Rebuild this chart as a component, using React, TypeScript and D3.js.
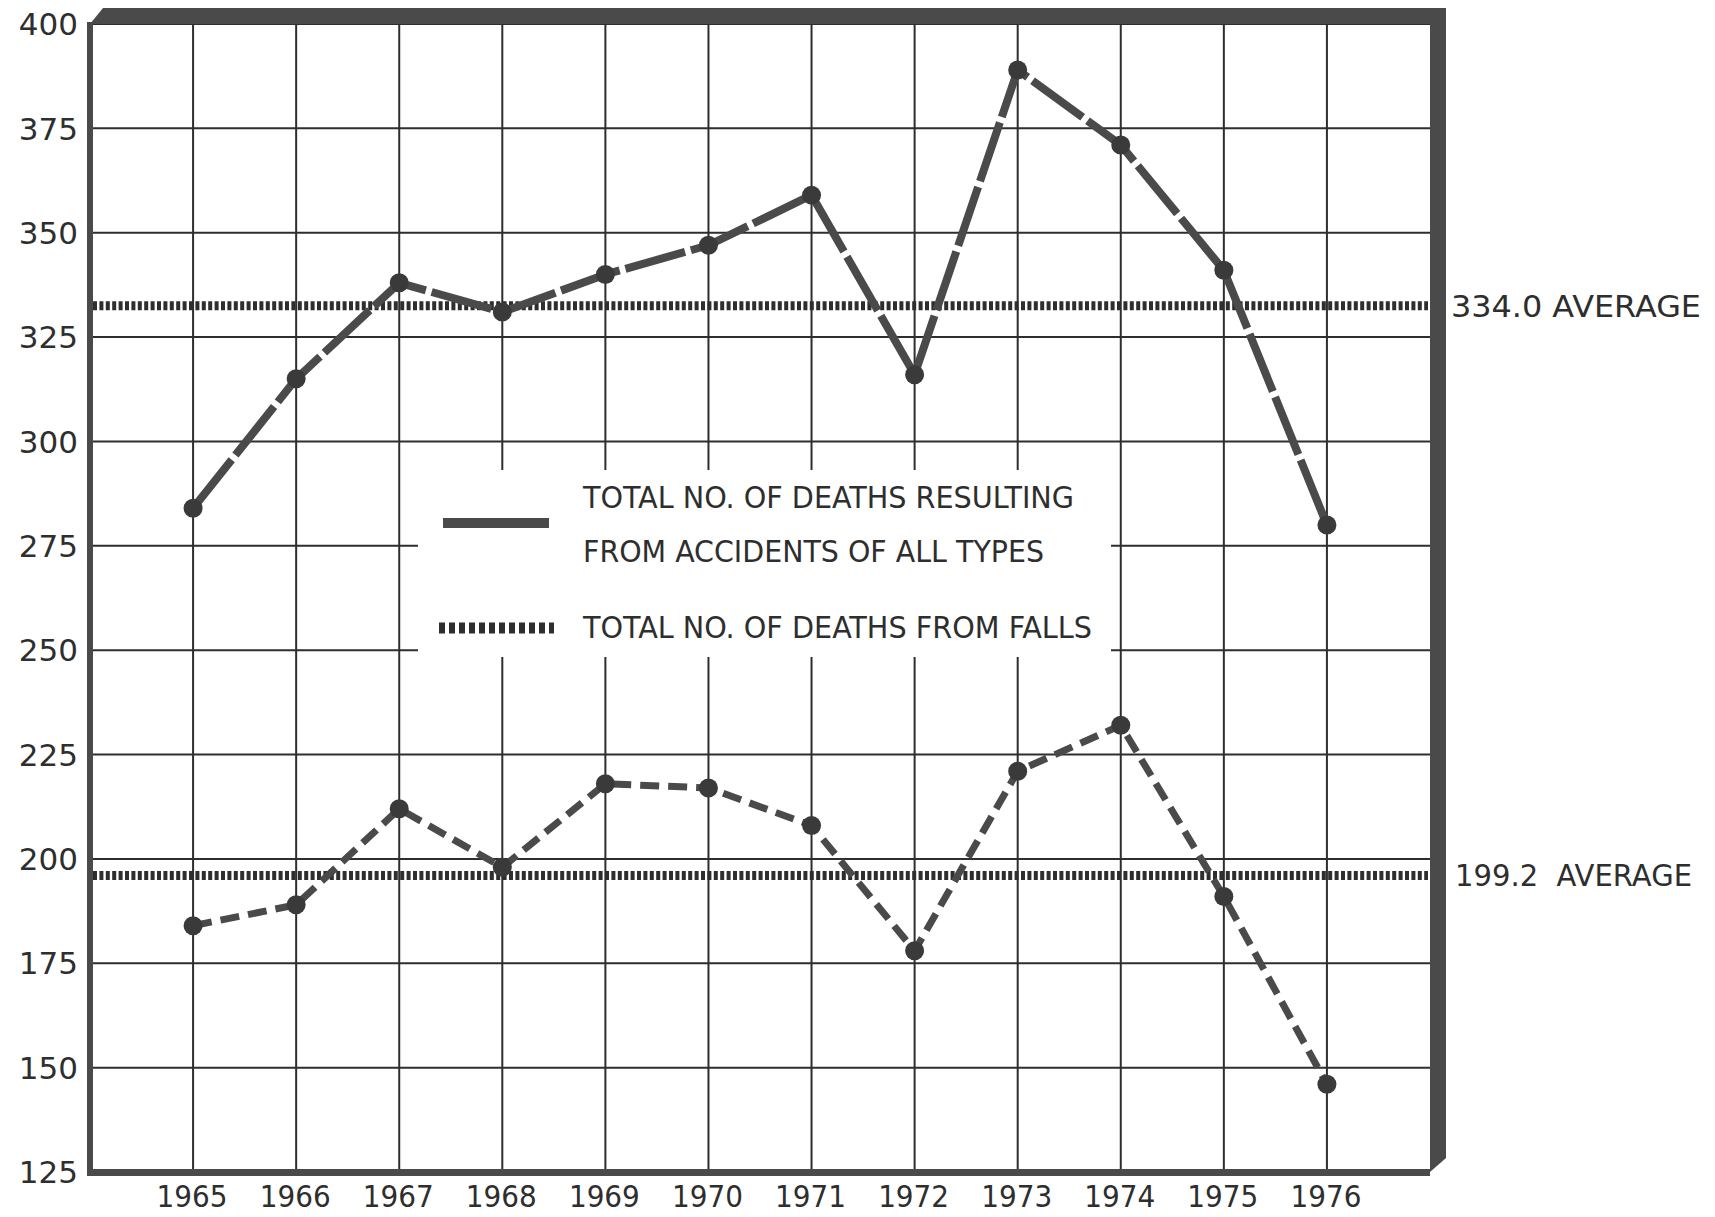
import * as d3 from 'd3'

// Deaths per year, 1965-1976: all accidents vs. falls, with the period averages
const YEARS = [1965, 1966, 1967, 1968, 1969, 1970, 1971, 1972, 1973, 1974, 1975, 1976]
const ALL_ACCIDENTS = [284, 315, 338, 331, 340, 347, 359, 316, 389, 371, 341, 280]
const FALLS = [184, 189, 212, 198, 218, 217, 208, 178, 221, 232, 191, 146]
const Y_TICKS = [125, 150, 175, 200, 225, 250, 275, 300, 325, 350, 375, 400]
// where the dotted average lines sit on the drawing, and their printed labels
const AVG_LINES = [332.5, 196]
const AVG_LABELS = ['334.0 AVERAGE', '199.2  AVERAGE']
const LEGEND_LINES = [
  'TOTAL NO. OF DEATHS RESULTING',
  'FROM ACCIDENTS OF ALL TYPES',
  'TOTAL NO. OF DEATHS FROM FALLS',
]

const W = 1715, H = 1217
const INK = '#2e2e2e'
const TONE = '#4a4a4a'
const AXIS_FONT = '"DejaVu Sans", sans-serif'
const COND_FONT = '"DejaVu Sans Condensed", "DejaVu Sans", sans-serif'

export default function App() {
  const x = d3.scaleLinear().domain([1964, 1977]).range([90, 1430])
  const y = d3.scaleLinear().domain([125, 400]).range([1172, 24])

  const left = x(1964), right = x(1977), top = y(400), bottom = y(125)

  const line = d3.line<number>()
    .x((d, i) => x(YEARS[i]))
    .y(d => y(d))

  // legend panel (white box that blanks out the grid behind it)
  const lg = { x: 418, y: 470, w: 693, h: 187 }

  // raised frame: thick top + right faces, thin left + bottom
  const shade = `M${left},${top} L${left + 13},${top - 16} L${right + 16},${top - 16} ` +
    `L${right + 16},${bottom - 14} L${right},${bottom} L${right},${top} Z`

  return (
    <svg width={W} height={H} style={{ position: 'absolute', left: 0, top: 0, background: '#fff' }}>
      {/* grid */}
      <g stroke={INK} strokeWidth={2}>
        {Y_TICKS.map(t => (
          <line key={'h' + t} x1={left} x2={right} y1={y(t)} y2={y(t)} />
        ))}
        {YEARS.map(yr => (
          <line key={'v' + yr} x1={x(yr)} x2={x(yr)} y1={top} y2={bottom} />
        ))}
      </g>

      <rect x={lg.x} y={lg.y} width={lg.w} height={lg.h} fill="#fff" />

      {/* frame */}
      <path d={shade} fill={TONE} />
      <rect x={left - 3} y={top - 2} width={6} height={bottom - top + 4} fill={TONE} />
      <rect x={left - 3} y={bottom - 3} width={right - left + 3} height={7} fill={TONE} />

      {/* averages */}
      {AVG_LINES.map((v, i) => (
        <line key={'avg' + i} x1={left + 3} x2={right - 2} y1={y(v)} y2={y(v)}
          stroke={INK} strokeWidth={9} strokeDasharray="4,2.4" />
      ))}
      {AVG_LABELS.map((s, i) => (
        <text key={'al' + i} x={i === 0 ? 1451 : 1455} y={y(AVG_LINES[i])} dy="0.36em"
          fontFamily={AXIS_FONT} fontSize={30} fill={INK} textLength={i === 0 ? 250 : 237}
          lengthAdjust="spacingAndGlyphs" style={{ whiteSpace: 'pre' }}>{s}</text>
      ))}

      {/* series */}
      <path d={line(ALL_ACCIDENTS) ?? ''} fill="none" stroke={TONE} strokeWidth={8}
        strokeDasharray="62,6" strokeLinejoin="round" />
      <path d={line(FALLS) ?? ''} fill="none" stroke={TONE} strokeWidth={7}
        strokeDasharray="19,9" />
      {[ALL_ACCIDENTS, FALLS].map((s, si) => s.map((v, i) => (
        <circle key={si + '-' + i} cx={x(YEARS[i])} cy={y(v)} r={9.5} fill="#3a3a3a" />
      )))}

      {/* legend */}
      <line x1={443} x2={549} y1={523} y2={523} stroke={TONE} strokeWidth={10} />
      <line x1={439} x2={554} y1={628} y2={628} stroke={INK} strokeWidth={11} strokeDasharray="6,4" />
      {LEGEND_LINES.map((s, i) => (
        <text key={s} x={583} y={[497, 551, 627][i]} dy="0.36em" fontFamily={COND_FONT}
          fontSize={31} fill={INK} textLength={[491, 461, 509][i]} lengthAdjust="spacingAndGlyphs">{s}</text>
      ))}

      {/* y axis */}
      {Y_TICKS.map(t => (
        <text key={'yt' + t} x={78} y={y(t)} dy="0.36em" textAnchor="end"
          fontFamily={AXIS_FONT} fontSize={31} fill={INK}>{t}</text>
      ))}
      {/* x axis */}
      {YEARS.map(yr => (
        <text key={'xt' + yr} x={x(yr) - 1} y={1207} textAnchor="middle"
          fontFamily={COND_FONT} fontSize={31} fill={INK}>{yr}</text>
      ))}
    </svg>
  )
}
